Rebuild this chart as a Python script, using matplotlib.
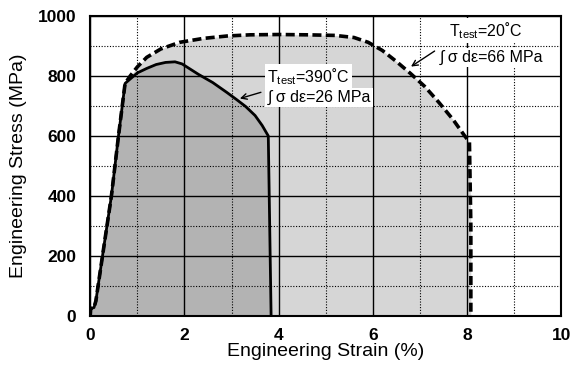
import matplotlib
matplotlib.use("Agg")
import matplotlib.pyplot as plt
import numpy as np

plt.rcParams['font.family'] = ['Liberation Sans', 'DejaVu Sans']
plt.rcParams['mathtext.fontset'] = 'custom'
plt.rcParams['mathtext.rm'] = 'Liberation Sans'

# 390 C test
strain_390 = [0, 0.01, 0.08, 0.12, 0.27, 0.45, 0.6, 0.74, 0.85, 1.0, 1.2, 1.4, 1.6,
              1.8, 1.95, 2.1, 2.3, 2.6, 2.9, 3.1, 3.3, 3.5, 3.65, 3.75, 3.78, 3.81, 3.84]
stress_390 = [0, 25, 28, 50, 210, 400, 600, 775, 790, 810, 825, 838, 845,
              847, 840, 825, 805, 778, 745, 722, 698, 668, 635, 608, 600, 300, 0]

# 20 C test
strain_20 = [0, 0.01, 0.08, 0.12, 0.27, 0.45, 0.6, 0.74, 0.85, 1.0, 1.2, 1.5, 1.9, 2.4,
             2.9, 3.4, 4.0, 4.6, 5.2, 5.6, 5.9, 6.2, 6.5, 6.8, 7.1, 7.4, 7.7, 7.95,
             8.05, 8.08, 8.08]
stress_20 = [0, 25, 28, 50, 210, 400, 600, 775, 800, 830, 862, 890, 912, 925,
             933, 937, 938, 937, 935, 928, 912, 885, 848, 808, 765, 712, 655, 600,
             580, 300, 0]

fig = plt.figure(figsize=(5.71, 3.70), dpi=100)
ax = fig.add_axes([0.158, 0.146, 0.825, 0.811])

ax.fill_between(strain_20, stress_20, 0, color='0.84', lw=0)
ax.fill_between(strain_390, stress_390, 0, color='0.70', lw=0)
ax.plot(strain_390, stress_390, color='black', lw=2)
ax.plot(strain_20, stress_20, color='black', lw=2.6, dashes=(2.5, 1.2))

ax.set_xlim(0, 10)
ax.set_ylim(0, 1000)
ax.set_xticks([0, 2, 4, 6, 8, 10])
ax.set_yticks([0, 200, 400, 600, 800, 1000])
ax.set_xticks([1, 3, 5, 7, 9], minor=True)
ax.set_yticks([100, 300, 500, 700, 900], minor=True)
ax.set_axisbelow('line')
ax.grid(which='major', color='black', lw=1.0)
ax.grid(which='minor', color='black', lw=0.8, ls=(0, (1, 1.5)))
ax.tick_params(which='both', length=0)
ax.tick_params(axis='x', pad=9)
ax.tick_params(axis='y', pad=10)
for lab in ax.get_xticklabels() + ax.get_yticklabels():
    lab.set_fontweight('bold')
    lab.set_fontsize(12.5)
for s in ax.spines.values():
    s.set_linewidth(1.5)

ax.set_xlabel('Engineering Strain (%)', fontsize=14, labelpad=0)
ax.set_ylabel('Engineering Stress (MPa)', fontsize=14, labelpad=8)

box = dict(facecolor='white', edgecolor='none', pad=1.5)
ax.text(3.76, 798, r'$\mathrm{T}_{\mathrm{test}}$=390˚C', fontsize=11.5, va='center',
        bbox=box, zorder=5)
ax.text(3.76, 727, '∫ σ dε=26 MPa', fontsize=11.5, va='center', bbox=box, zorder=5)
ax.annotate('', xy=(3.12, 722), xytext=(3.68, 748),
            arrowprops=dict(arrowstyle='->', color='black', lw=1), zorder=6)

ax.text(7.62, 950, r'$\mathrm{T}_{\mathrm{test}}$=20˚C', fontsize=11.5, va='center',
        bbox=box, zorder=5)
ax.text(7.42, 862, '∫ σ dε=66 MPa', fontsize=11.5, va='center', bbox=box, zorder=5)
ax.annotate('', xy=(6.76, 826), xytext=(7.36, 888),
            arrowprops=dict(arrowstyle='->', color='black', lw=1), zorder=6)

fig.savefig('out.png', dpi=100)
